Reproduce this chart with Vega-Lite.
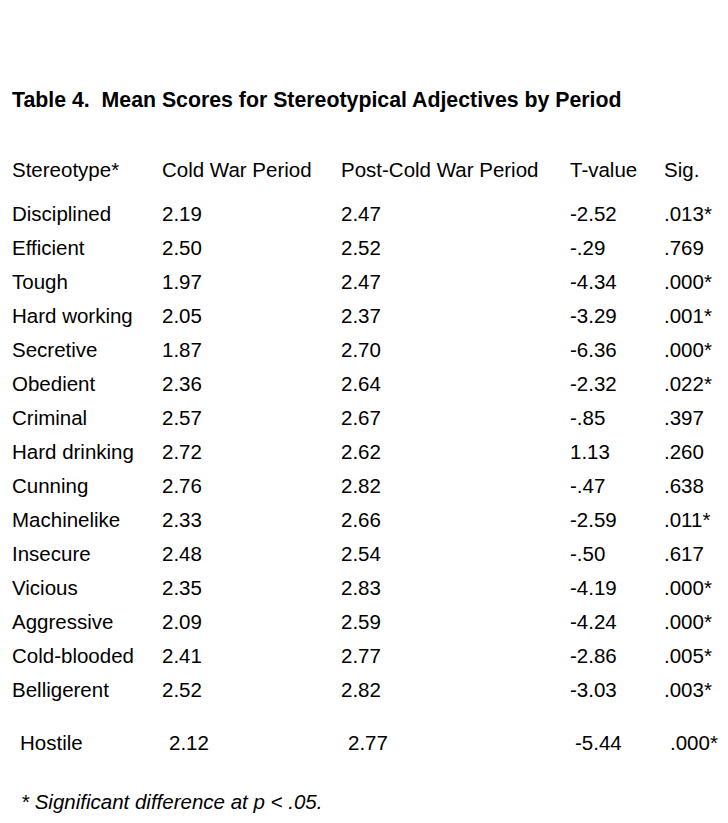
{
  "$schema": "https://vega.github.io/schema/vega-lite/v6.json",
  "width": 728,
  "height": 646,
  "autosize": {"type": "none"},
  "padding": {"top": 147, "left": 0, "right": 0, "bottom": 30},
  "background": "white",
  "title": {
    "text": "Table 4.\u00a0 Mean Scores for Stereotypical Adjectives by Period",
    "anchor": "start",
    "frame": "group",
    "dx": 12,
    "offset": 19,
    "baseline": "alphabetic",
    "font": "Liberation Sans",
    "fontSize": 21.3,
    "fontWeight": "bold",
    "color": "#000000"
  },
  "config": {
    "view": {"stroke": null},
    "text": {"font": "Liberation Sans", "fontSize": 20.5, "color": "#000000", "align": "left", "baseline": "middle"}
  },
  "datasets": {
    "header": [
      {"Stereotype": "Stereotype*", "Cold": "Cold War Period", "Post": "Post-Cold War Period", "T": "T-value", "Sig": "Sig."}
    ],
    "rows": [
      {"Stereotype": "Disciplined", "Cold": "2.19", "Post": "2.47", "T": "-2.52", "Sig": ".013*"},
      {"Stereotype": "Efficient", "Cold": "2.50", "Post": "2.52", "T": "-.29", "Sig": ".769"},
      {"Stereotype": "Tough", "Cold": "1.97", "Post": "2.47", "T": "-4.34", "Sig": ".000*"},
      {"Stereotype": "Hard working", "Cold": "2.05", "Post": "2.37", "T": "-3.29", "Sig": ".001*"},
      {"Stereotype": "Secretive", "Cold": "1.87", "Post": "2.70", "T": "-6.36", "Sig": ".000*"},
      {"Stereotype": "Obedient", "Cold": "2.36", "Post": "2.64", "T": "-2.32", "Sig": ".022*"},
      {"Stereotype": "Criminal", "Cold": "2.57", "Post": "2.67", "T": "-.85", "Sig": ".397"},
      {"Stereotype": "Hard drinking", "Cold": "2.72", "Post": "2.62", "T": "1.13", "Sig": ".260"},
      {"Stereotype": "Cunning", "Cold": "2.76", "Post": "2.82", "T": "-.47", "Sig": ".638"},
      {"Stereotype": "Machinelike", "Cold": "2.33", "Post": "2.66", "T": "-2.59", "Sig": ".011*"},
      {"Stereotype": "Insecure", "Cold": "2.48", "Post": "2.54", "T": "-.50", "Sig": ".617"},
      {"Stereotype": "Vicious", "Cold": "2.35", "Post": "2.83", "T": "-4.19", "Sig": ".000*"},
      {"Stereotype": "Aggressive", "Cold": "2.09", "Post": "2.59", "T": "-4.24", "Sig": ".000*"},
      {"Stereotype": "Cold-blooded", "Cold": "2.41", "Post": "2.77", "T": "-2.86", "Sig": ".005*"},
      {"Stereotype": "Belligerent", "Cold": "2.52", "Post": "2.82", "T": "-3.03", "Sig": ".003*"}
    ],
    "hostile": [
      {"Stereotype": "Hostile", "Cold": "2.12", "Post": "2.77", "T": "-5.44", "Sig": ".000*"}
    ],
    "note": [
      {"Stereotype": "* Significant difference at p < .05."}
    ]
  },
  "encoding": {
    "y": {
      "field": "Stereotype",
      "type": "nominal",
      "sort": null,
      "axis": null,
      "scale": {
        "type": "point",
        "padding": 1,
        "domain": ["Stereotype*", "Disciplined", "Efficient", "Tough", "Hard working", "Secretive", "Obedient", "Criminal", "Hard drinking", "Cunning", "Machinelike", "Insecure", "Vicious", "Aggressive", "Cold-blooded", "Belligerent", "Hostile", "* Significant difference at p < .05."]
      }
    }
  },
  "layer": [
    {"data": {"name": "header"}, "mark": {"type": "text", "dy": -10}, "encoding": {"x": {"value": 12}, "text": {"field": "Stereotype"}}},
    {"data": {"name": "header"}, "mark": {"type": "text", "dy": -10}, "encoding": {"x": {"value": 162}, "text": {"field": "Cold"}}},
    {"data": {"name": "header"}, "mark": {"type": "text", "dy": -10}, "encoding": {"x": {"value": 341}, "text": {"field": "Post"}}},
    {"data": {"name": "header"}, "mark": {"type": "text", "dy": -10}, "encoding": {"x": {"value": 570}, "text": {"field": "T"}}},
    {"data": {"name": "header"}, "mark": {"type": "text", "dy": -10}, "encoding": {"x": {"value": 664}, "text": {"field": "Sig"}}},

    {"data": {"name": "rows"}, "mark": {"type": "text"}, "encoding": {"x": {"value": 12}, "text": {"field": "Stereotype"}}},
    {"data": {"name": "rows"}, "mark": {"type": "text"}, "encoding": {"x": {"value": 162}, "text": {"field": "Cold"}}},
    {"data": {"name": "rows"}, "mark": {"type": "text"}, "encoding": {"x": {"value": 341}, "text": {"field": "Post"}}},
    {"data": {"name": "rows"}, "mark": {"type": "text"}, "encoding": {"x": {"value": 570}, "text": {"field": "T"}}},
    {"data": {"name": "rows"}, "mark": {"type": "text"}, "encoding": {"x": {"value": 664}, "text": {"field": "Sig"}}},

    {"data": {"name": "hostile"}, "mark": {"type": "text", "dy": 19, "dx": 8}, "encoding": {"x": {"value": 12}, "text": {"field": "Stereotype"}}},
    {"data": {"name": "hostile"}, "mark": {"type": "text", "dy": 19, "dx": 7}, "encoding": {"x": {"value": 162}, "text": {"field": "Cold"}}},
    {"data": {"name": "hostile"}, "mark": {"type": "text", "dy": 19, "dx": 7}, "encoding": {"x": {"value": 341}, "text": {"field": "Post"}}},
    {"data": {"name": "hostile"}, "mark": {"type": "text", "dy": 19, "dx": 5}, "encoding": {"x": {"value": 570}, "text": {"field": "T"}}},
    {"data": {"name": "hostile"}, "mark": {"type": "text", "dy": 19, "dx": 6}, "encoding": {"x": {"value": 664}, "text": {"field": "Sig"}}},

    {"data": {"name": "note"}, "mark": {"type": "text", "dy": 44, "fontStyle": "italic"}, "encoding": {"x": {"value": 21}, "text": {"field": "Stereotype"}}}
  ]
}
